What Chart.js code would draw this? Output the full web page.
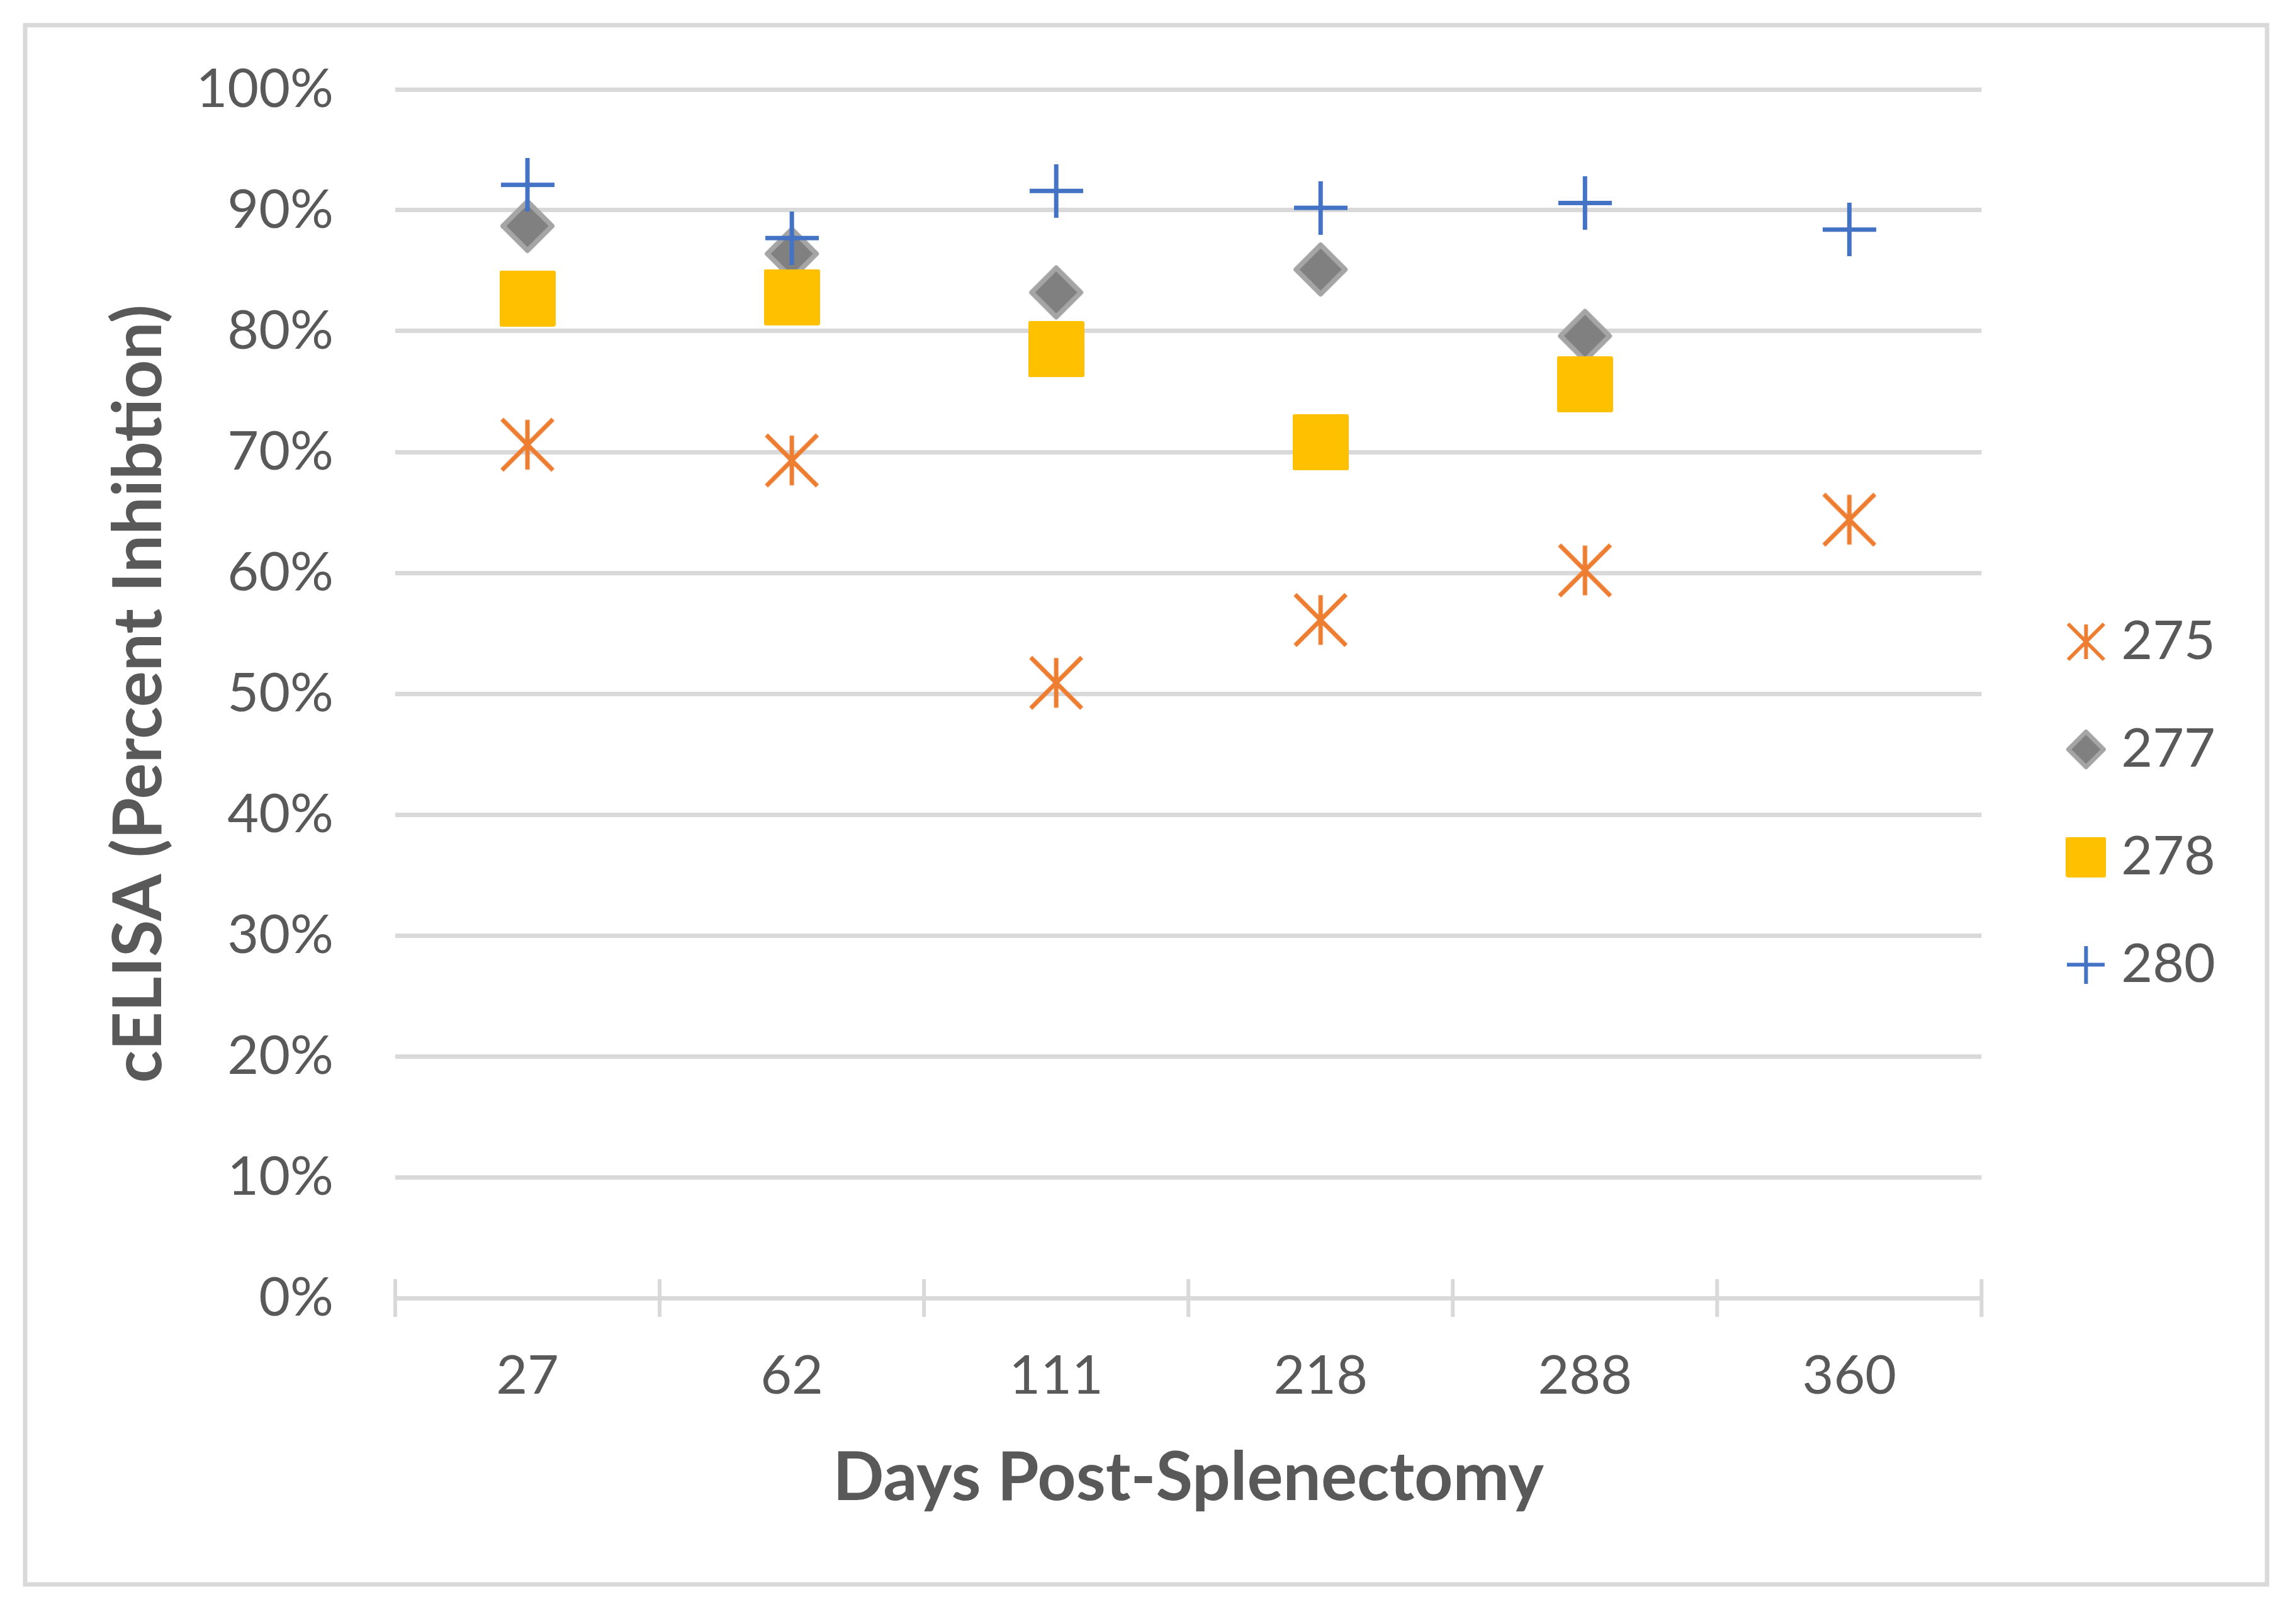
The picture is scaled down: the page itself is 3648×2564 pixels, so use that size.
<!DOCTYPE html>
<html>
<head>
<meta charset="utf-8">
<script src="https://cdn.jsdelivr.net/npm/chart.js@4/dist/chart.umd.min.js"></script>
<style>
  html, body { margin: 0; padding: 0; background: #ffffff; }
  #wrap { width: 3648px; height: 2564px; }
  canvas { display: block; }
</style>
</head>
<body>
<div id="wrap"><canvas id="c" width="3648" height="2564" style="width:3648px;height:2564px"></canvas></div>
<script>
// ---- data ----
const categories = ['27', '62', '111', '218', '288', '360'];
const seriesNames = ['275', '277', '278', '280'];
const s275 = [70.6, 69.3, 50.9, 56.1, 60.2, 64.4];
const s277 = [88.7, 86.4, 83.2, 85.1, 79.6, null];
const s278 = [82.7, 82.8, 78.5, 70.8, 75.6, null];
const s280 = [92.1, 87.7, 91.6, 90.2, 90.6, 88.4];
const yTicks = [0, 10, 20, 30, 40, 50, 60, 70, 80, 90, 100];
const xTitle = 'Days Post-Splenectomy';
const yTitle = 'cELISA (Percent Inhibtion)';

// ---- styles ----
const TEXT = '#595959';
const GRID = '#D9D9D9';
const ORANGE = '#ED7D31';
const GRAYF = '#808080';
const GRAYB = '#A5A5A5';
const GOLD = '#FFC000';
const BLUE = '#4472C4';

function mk(w, h) { const c = document.createElement('canvas'); c.width = w; c.height = h; return c; }
function starImg(s, lw) {
  const c = mk(s, s), g = c.getContext('2d');
  g.strokeStyle = ORANGE; g.lineWidth = lw; g.lineCap = 'butt';
  const m = lw / 2;
  g.beginPath();
  g.moveTo(m, m); g.lineTo(s - m, s - m);
  g.moveTo(s - m, m); g.lineTo(m, s - m);
  g.moveTo(s / 2, m + 1); g.lineTo(s / 2, s - m - 1);
  g.stroke();
  return c;
}
function diamondImg(s, bw) {
  const c = mk(s, s), g = c.getContext('2d');
  const b = bw / 2 + 1;
  g.beginPath();
  g.moveTo(s / 2, b); g.lineTo(s - b, s / 2); g.lineTo(s / 2, s - b); g.lineTo(b, s / 2); g.closePath();
  g.fillStyle = GRAYF; g.fill();
  g.lineJoin = 'round'; g.lineWidth = bw; g.strokeStyle = GRAYB; g.stroke();
  return c;
}
function squareImg(s) {
  const c = mk(s, s), g = c.getContext('2d');
  g.fillStyle = GOLD;
  g.beginPath();
  if (g.roundRect) g.roundRect(0, 0, s, s, 3); else g.rect(0, 0, s, s);
  g.fill();
  return c;
}
function plusImg(s, lw) {
  const c = mk(s, s), g = c.getContext('2d');
  g.strokeStyle = BLUE; g.lineWidth = lw; g.lineCap = 'butt';
  g.beginPath();
  g.moveTo(0, s / 2); g.lineTo(s, s / 2);
  g.moveTo(s / 2, 0); g.lineTo(s / 2, s);
  g.stroke();
  return c;
}
const plotMarks = [starImg(88, 7), diamondImg(88, 8), squareImg(89), plusImg(85, 7)];
const legendMarks = [starImg(63, 6), diamondImg(65, 7), squareImg(64), plusImg(60, 6)];
const colors = [ORANGE, GRAYF, GOLD, BLUE];
const seriesData = [s275, s277, s278, s280];

const frame = {
  id: 'frame',
  beforeDraw(chart) {
    const g = chart.ctx;
    g.save();
    g.fillStyle = '#ffffff';
    g.fillRect(0, 0, chart.width, chart.height);
    g.strokeStyle = GRID; g.lineWidth = 7;
    g.strokeRect(40, 40, 3562, 2477);
    g.restore();
  },
  beforeDatasetsDraw(chart) {
    const xs = chart.scales.x, ys = chart.scales.y;
    const g = chart.ctx;
    const band = xs.getPixelForValue(1) - xs.getPixelForValue(0);
    const y0 = ys.getPixelForValue(0);
    g.save();
    g.strokeStyle = GRID; g.lineWidth = 6;
    g.beginPath();
    for (let i = 0; i <= categories.length; i++) {
      const px = xs.getPixelForValue(i) - band / 2;
      g.moveTo(px, y0 - 30); g.lineTo(px, y0 + 30);
    }
    g.stroke();
    g.restore();
  }
};

new Chart(document.getElementById('c'), {
  type: 'line',
  data: {
    labels: categories,
    datasets: seriesNames.map((name, i) => ({
      label: name,
      data: seriesData[i],
      showLine: false,
      pointStyle: plotMarks[i],
      pointRadius: 44,
      pointHoverRadius: 44,
      borderColor: colors[i],
      backgroundColor: colors[i],
      order: seriesNames.length - i
    }))
  },
  options: {
    responsive: false,
    devicePixelRatio: 1,
    animation: false,
    layout: { padding: { left: 100, top: 142, right: 118, bottom: 154 } },
    plugins: {
      tooltip: { enabled: false },
      legend: {
        position: 'right',
        align: 'center',
        labels: {
          usePointStyle: true,
          boxWidth: 26,
          padding: 85,
          color: TEXT,
          font: { family: 'Lato', size: 86 },
          sort: (a, b) => a.datasetIndex - b.datasetIndex,
          generateLabels(chart) {
            const items = Chart.defaults.plugins.legend.labels.generateLabels(chart);
            items.forEach(it => { it.pointStyle = legendMarks[it.datasetIndex]; it.fontColor = TEXT; });
            return items;
          }
        }
      }
    },
    scales: {
      x: {
        type: 'category',
        offset: true,
        grid: { display: false, drawTicks: false },
        border: { display: false },
        ticks: { color: TEXT, font: { family: 'Lato', size: 86 }, padding: 73, maxRotation: 0 },
        title: { display: true, text: xTitle, color: TEXT, font: { family: 'Lato', size: 107, weight: 'bold', lineHeight: 1.0 }, padding: { top: 0, bottom: 8 } },
        afterFit(s) { s.height = 348; }
      },
      y: {
        min: 0, max: 100,
        afterBuildTicks(s) { s.ticks = yTicks.map(v => ({ value: v })); },
        grid: { color: GRID, lineWidth: 7, drawTicks: true, tickLength: 90, tickColor: 'rgba(0,0,0,0)' },
        border: { display: false },
        ticks: { color: TEXT, font: { family: 'Lato', size: 86 }, padding: 8, callback: v => v + '%' },
        title: { display: true, text: yTitle, color: TEXT, font: { family: 'Lato', size: 107, weight: 'bold', lineHeight: 1.2 }, padding: { top: 57, bottom: 0 } },
        afterFit(s) { s.width = 528; }
      },
      y2: {
        position: 'right',
        display: true,
        grid: { display: false, drawTicks: false },
        border: { display: false },
        ticks: { display: false },
        afterFit(s) { s.width = 68; }
      }
    }
  },
  plugins: [frame]
});
</script>
</body>
</html>
